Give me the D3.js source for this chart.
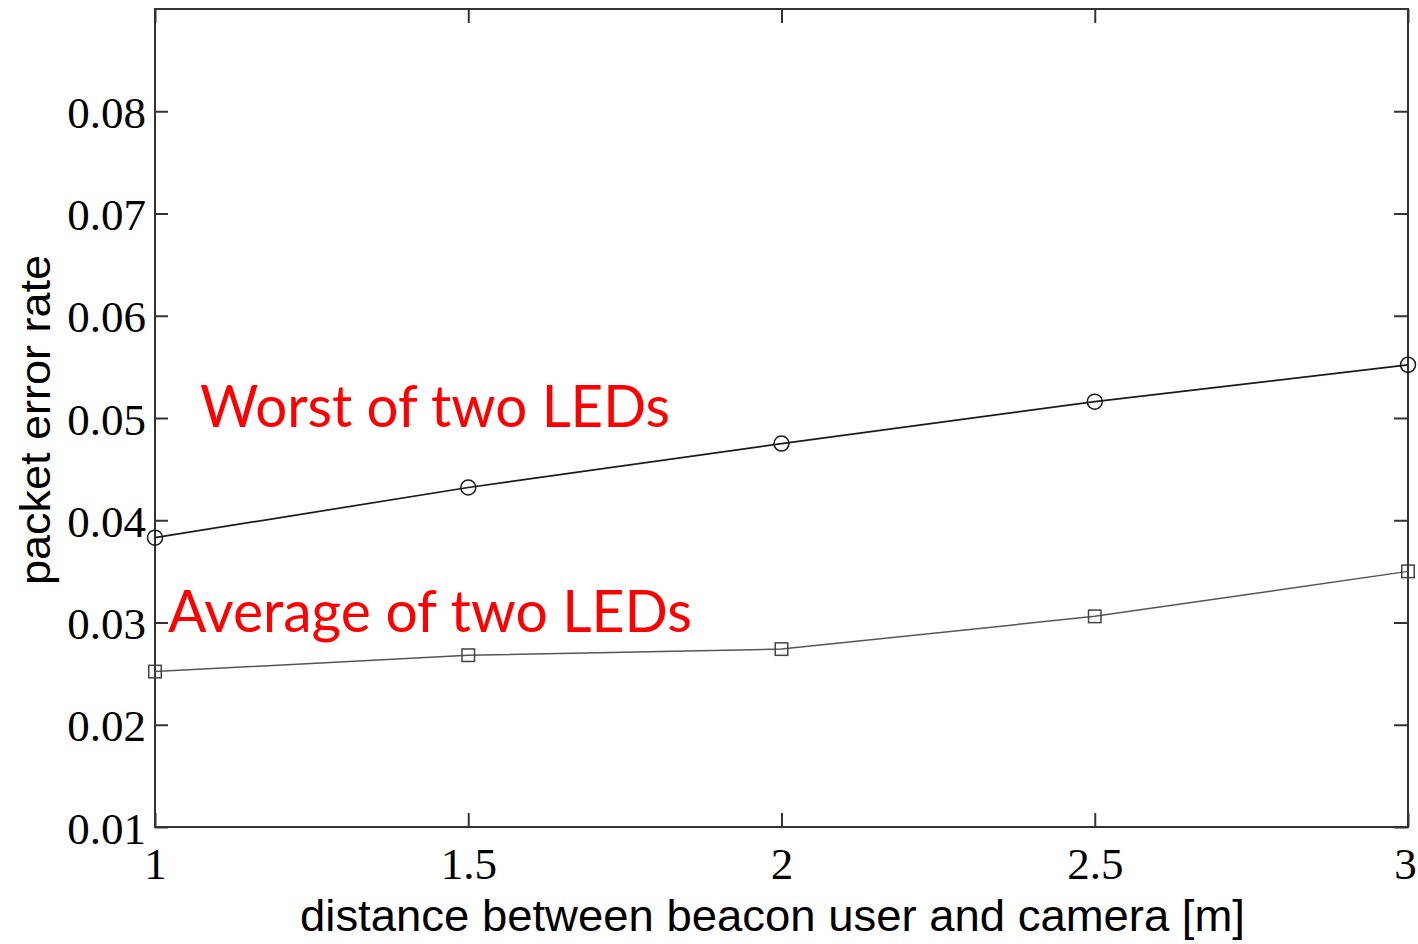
<!DOCTYPE html>
<html><head><meta charset="utf-8">
<script src="https://cdn.jsdelivr.net/npm/d3@7"></script>
<style>html,body{margin:0;padding:0;background:#fff;}svg{display:block;}</style>
</head><body>
<svg id="chart" width="1418" height="944"></svg>
<script>
const distances = [1, 1.5, 2, 2.5, 3];
const worstPER = [0.0383, 0.0432, 0.0475, 0.0516, 0.0552];
const averagePER = [0.0252, 0.0268, 0.0274, 0.0306, 0.0350];
const xTicks = [1, 1.5, 2, 2.5, 3];
const yTicks = [0.01, 0.02, 0.03, 0.04, 0.05, 0.06, 0.07, 0.08];
const xLabel = "distance between beacon user and camera [m]";
const yLabel = "packet error rate";
const worstLabel = "Worst of two LEDs";
const averageLabel = "Average of two LEDs";

const svg = d3.select("#chart");
const L = 155, R = 1408, T = 9, B = 827;
const x = d3.scaleLinear().domain([1, 3]).range([L, R]);
const y = d3.scaleLinear().domain([0.01, 0.09]).range([B, T]);
const axisColor = "#333";
const tickFont = "'Liberation Serif','Times New Roman',serif";

// frame
svg.append("rect").attr("x", L).attr("y", T).attr("width", R - L).attr("height", B - T)
  .attr("fill", "none").attr("stroke", axisColor).attr("stroke-width", 2);

function styleAxis(g) {
  g.select(".domain").remove();
  g.selectAll(".tick line").attr("stroke", axisColor).attr("stroke-width", 2);
  g.selectAll(".tick text").attr("fill", "#000").style("font-family", tickFont).style("font-size", "45px");
}
// bottom axis with labels
const gx = svg.append("g").attr("transform", `translate(0,${B})`)
  .call(d3.axisBottom(x).tickValues(xTicks).tickFormat(d3.format("")).tickSizeInner(-14).tickSizeOuter(0).tickPadding(20));
styleAxis(gx);
gx.selectAll(".tick text").attr("dy", null).attr("y", 52)
  .attr("x", (d, i, n) => i === n.length - 1 ? -3 : 0);
// top axis ticks
const gxt = svg.append("g").attr("transform", `translate(0,${T})`)
  .call(d3.axisTop(x).tickValues(xTicks).tickFormat("").tickSizeInner(-14).tickSizeOuter(0));
styleAxis(gxt);
// left axis with labels
const gy = svg.append("g").attr("transform", `translate(${L},0)`)
  .call(d3.axisLeft(y).tickValues(yTicks).tickFormat(d3.format(".2f")).tickSizeInner(-13).tickSizeOuter(0).tickPadding(0));
styleAxis(gy);
gy.selectAll(".tick text").attr("x", -9).attr("dy", null).attr("y", 16);
// right axis ticks
const gyr = svg.append("g").attr("transform", `translate(${R},0)`)
  .call(d3.axisRight(y).tickValues(yTicks).tickFormat("").tickSizeInner(-14).tickSizeOuter(0));
styleAxis(gyr);

// lines
const line = d3.line().x(d => x(d[0])).y(d => y(d[1]));
const worstData = distances.map((d, i) => [d, worstPER[i]]);
const avgData = distances.map((d, i) => [d, averagePER[i]]);

svg.append("path").datum(worstData).attr("d", line).attr("fill", "none")
  .attr("stroke", "#1a1a1a").attr("stroke-width", 1.7);
svg.append("path").datum(avgData).attr("d", line).attr("fill", "none")
  .attr("stroke", "#555").attr("stroke-width", 1.5);

svg.selectAll("circle.worst").data(worstData).enter().append("circle")
  .attr("class", "worst").attr("cx", d => x(d[0])).attr("cy", d => y(d[1])).attr("r", 7.5)
  .attr("fill", "none").attr("stroke", "#1a1a1a").attr("stroke-width", 1.5);
const s = 12.5;
svg.selectAll("rect.avg").data(avgData).enter().append("rect")
  .attr("class", "avg").attr("x", d => x(d[0]) - s / 2).attr("y", d => y(d[1]) - s / 2)
  .attr("width", s).attr("height", s)
  .attr("fill", "none").attr("stroke", "#444").attr("stroke-width", 1.5);

// axis titles
svg.append("text").attr("x", (300 + 1245) / 2).attr("y", 931).attr("text-anchor", "middle")
  .style("font-family", "'Liberation Sans',Arial,sans-serif").style("font-size", "44px")
  .attr("textLength", 945).attr("lengthAdjust", "spacingAndGlyphs").text(xLabel);
svg.append("text").attr("transform", "translate(50,420) rotate(-90)").attr("text-anchor", "middle")
  .style("font-family", "'Liberation Sans',Arial,sans-serif").style("font-size", "42px")
  .attr("textLength", 330).attr("lengthAdjust", "spacingAndGlyphs").text(yLabel);

// annotations
const annFont = "Lato,'Open Sans',sans-serif";
svg.append("text").attr("x", 200).attr("y", 427).attr("fill", "#ff0000")
  .style("font-family", annFont).style("font-size", "59px")
  .attr("textLength", 470).attr("lengthAdjust", "spacingAndGlyphs").text(worstLabel);
svg.append("text").attr("x", 168).attr("y", 632).attr("fill", "#ff0000")
  .style("font-family", annFont).style("font-size", "59px")
  .attr("textLength", 524).attr("lengthAdjust", "spacingAndGlyphs").text(averageLabel);
</script>
</body></html>
